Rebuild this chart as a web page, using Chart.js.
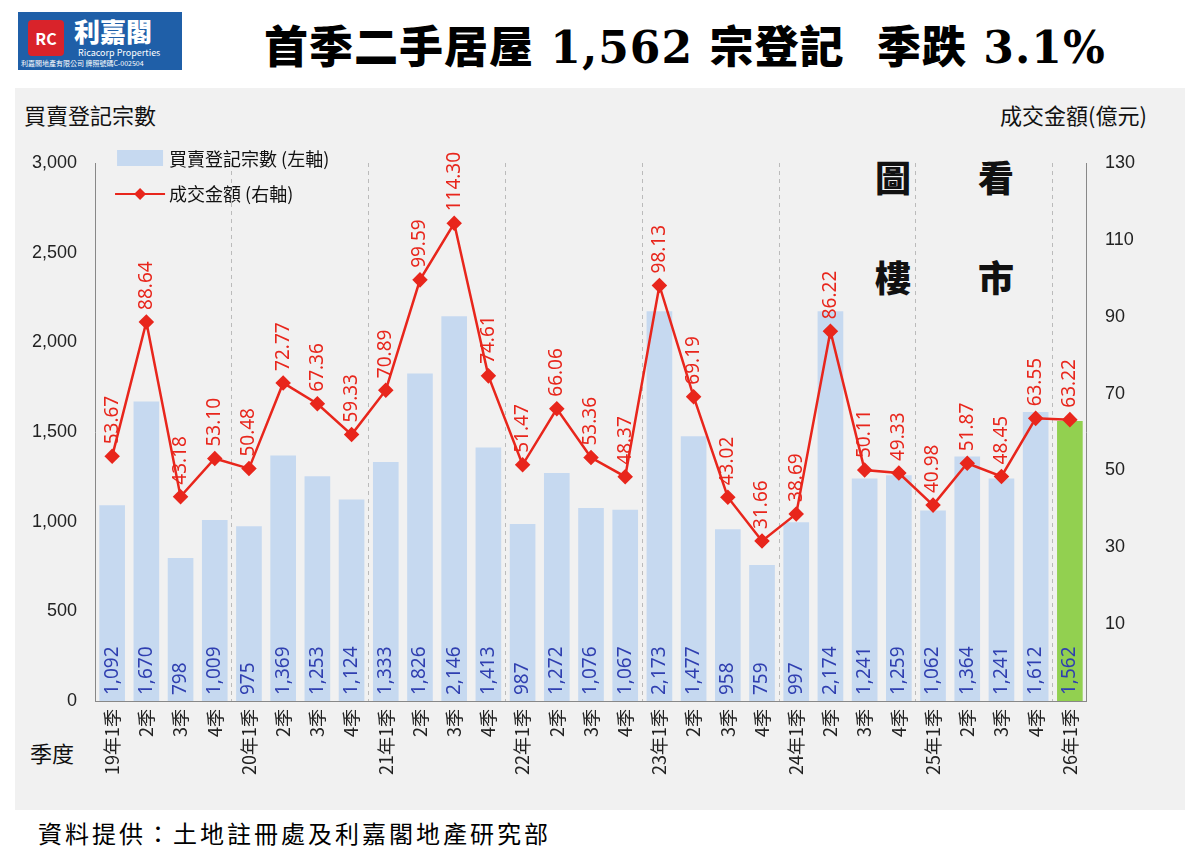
<!DOCTYPE html>
<html><head><meta charset="utf-8">
<script src="https://cdn.jsdelivr.net/npm/chart.js@4"></script>
<style>
body{margin:0;width:1200px;height:855px;background:#fff;position:relative;font-family:"Noto Sans CJK TC","Noto Sans",sans-serif;overflow:hidden}
#panel{position:absolute;left:15px;top:88px;width:1170px;height:722px;background:#f1f1f1}
#c{position:absolute;left:0;top:0}
#title{position:absolute;left:264px;top:12px;font-size:44px;font-weight:900;letter-spacing:1px;color:#000;font-family:"DejaVu Serif","Noto Sans CJK TC",serif}
#logo{position:absolute;left:18px;top:12px;width:164px;height:58px;background:#1f5fa8;color:#fff}
#foot{position:absolute;left:38px;top:815px;font-size:24px;letter-spacing:3px}
.t{position:absolute;font-size:22px;color:#111}
.eye{position:absolute;font-size:36px;font-weight:900;font-family:"Noto Sans CJK TC";color:#111}
</style></head><body>
<div id="panel"></div>
<div id="logo"><div style="position:absolute;left:10px;top:8px;width:36px;height:36px;background:#d9232a;border-radius:4px;color:#fff;font-size:16px;text-align:center;line-height:36px;font-weight:bold">RC</div>
<div style="position:absolute;left:56px;top:0px;font-size:26px;font-weight:900">利嘉閣</div>
<div style="position:absolute;left:60px;top:34px;font-size:9px">Ricacorp Properties</div>
<div style="position:absolute;left:3px;top:46px;font-size:7px">利嘉閣地產有限公司 牌照號碼C-002504</div></div>
<div id="title">首季二手居屋 1,562 宗登記&nbsp; 季跌 3.1%</div>
<div class="t" style="left:24px;top:98px">買賣登記宗數</div>
<div class="t" style="left:1000px;top:98px">成交金額(億元)</div>
<div class="t" style="left:30px;top:736px">季度</div>
<div class="eye" style="left:875px;top:150px">圖</div>
<div class="eye" style="left:978px;top:150px">看</div>
<div class="eye" style="left:875px;top:250px">樓</div>
<div class="eye" style="left:978px;top:250px">市</div>
<div id="foot">資料提供：土地註冊處及利嘉閣地產研究部</div>
<canvas id="c" width="1200" height="855"></canvas>
<script>
const quarters = ['19年1季','2季','3季','4季','20年1季','2季','3季','4季','21年1季','2季','3季','4季','22年1季','2季','3季','4季','23年1季','2季','3季','4季','24年1季','2季','3季','4季','25年1季','2季','3季','4季','26年1季'];
const registrations = [1092,1670,798,1009,975,1369,1253,1124,1333,1826,2146,1413,987,1272,1076,1067,2173,1477,958,759,997,2174,1241,1259,1062,1364,1241,1612,1562];
const amounts = [53.67,88.64,43.18,53.10,50.48,72.77,67.36,59.33,70.89,99.59,114.30,74.61,51.47,66.06,53.36,48.37,98.13,69.19,43.02,31.66,38.69,86.22,50.11,49.33,40.98,51.87,48.45,63.55,63.22];
const leftTicks = [0,500,1000,1500,2000,2500,3000];

const barColors = registrations.map((v,i)=> i===registrations.length-1 ? '#92d050' : '#c6d9f0');

const labelPlugin = {
  id:'labels',
  afterDatasetsDraw(chart){
    const ctx = chart.ctx;
    const bars = chart.getDatasetMeta(0).data;
    const pts = chart.getDatasetMeta(1).data;
    ctx.save();
    ctx.font = '19px "Noto Sans", sans-serif';
    ctx.textBaseline = 'middle';
    bars.forEach((b,i)=>{
      ctx.save();
      ctx.translate(b.x, chart.chartArea.bottom-6);
      ctx.rotate(-Math.PI/2);
      ctx.fillStyle = '#2f3fb0';
      ctx.textAlign = 'left';
      ctx.fillText(registrations[i].toLocaleString('en-US'),0,0);
      ctx.restore();
    });
    pts.forEach((p,i)=>{
      ctx.save();
      ctx.translate(p.x, p.y-12);
      ctx.rotate(-Math.PI/2);
      ctx.fillStyle = '#e8261c';
      ctx.textAlign = 'left';
      ctx.fillText(amounts[i].toFixed(2),0,0);
      ctx.restore();
    });
    const L = chart.chartArea.left;
    ctx.fillStyle = '#c6d9f0';
    ctx.fillRect(L+22,150,46,16);
    ctx.fillStyle = '#111';
    ctx.font = '18px "Noto Sans CJK TC", sans-serif';
    ctx.textAlign='left';
    ctx.fillText('買賣登記宗數 (左軸)', L+74,159);
    ctx.strokeStyle='#e8261c'; ctx.lineWidth=2;
    ctx.beginPath(); ctx.moveTo(L+20,194); ctx.lineTo(L+70,194); ctx.stroke();
    ctx.fillStyle='#e8261c';
    ctx.beginPath(); ctx.moveTo(L+45,188); ctx.lineTo(L+51,194); ctx.lineTo(L+45,200); ctx.lineTo(L+39,194); ctx.fill();
    ctx.fillStyle='#111';
    ctx.fillText('成交金額 (右軸)', L+74,194);
    ctx.restore();
  }
};

new Chart(document.getElementById('c'), {
  data:{
    labels: quarters,
    datasets:[
      {type:'bar', data:registrations, backgroundColor:barColors, yAxisID:'y', categoryPercentage:0.75, barPercentage:1, order:2},
      {type:'line', data:amounts, borderColor:'#e8261c', backgroundColor:'#e8261c', borderWidth:2.5, pointStyle:'rectRot', pointRadius:6, yAxisID:'y1', order:1}
    ]
  },
  options:{
    responsive:false, animation:false,
    layout:{padding:{left:22,right:55,top:163,bottom:72}},
    plugins:{legend:{display:false},tooltip:{enabled:false}},
    scales:{
      x:{offset:true,
        grid:{offset:true,drawTicks:false,color:(c)=>([4,8,12,16,20,24,28].includes(c.index)?'#bbb':'transparent')},
        border:{color:'#888',dash:[4,4]},
        ticks:{maxRotation:90,minRotation:90,autoSkip:false,font:{size:18,family:'"Noto Sans CJK TC"'},color:'#222',padding:8}},
      y:{position:'left',min:0,max:3000,
        afterBuildTicks:(s)=>{s.ticks=leftTicks.map(v=>({value:v}));},
        grid:{display:false},border:{color:'#888'},
        ticks:{font:{size:18},color:'#222',callback:v=>v.toLocaleString('en-US'),padding:10}},
      y1:{position:'right',min:-10,max:130,
        grid:{display:false},border:{color:'#888'},
        ticks:{stepSize:20,font:{size:18},color:'#222',padding:10,callback:v=>v<0?'':v}}
    }
  },
  plugins:[labelPlugin]
});
</script>
</body></html>
